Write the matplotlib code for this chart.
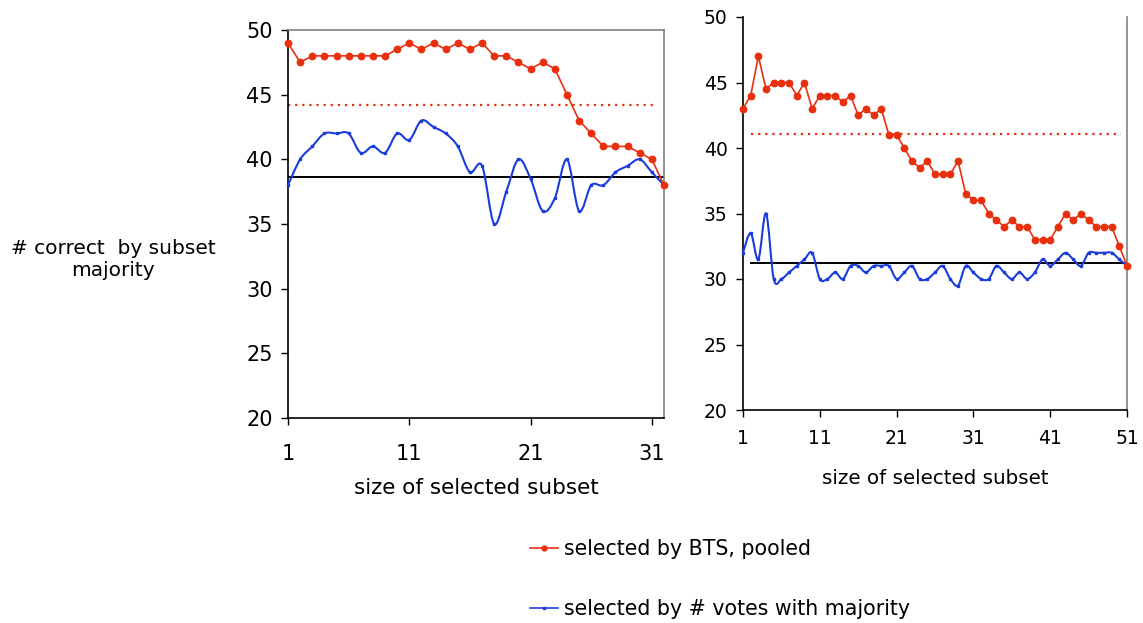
import numpy as np
import matplotlib
matplotlib.use("Agg")
import matplotlib.pyplot as plt
from matplotlib.path import Path
from matplotlib.patches import PathPatch
from matplotlib.lines import Line2D

# ---------------- data ----------------
left_bts = [49, 47.5, 48, 48, 48, 48, 48, 48, 48, 48.5, 49, 48.5, 49, 48.5, 49, 48.5,
            49, 48, 48, 47.5, 47, 47.5, 47, 45, 43, 42, 41, 41, 41, 40.5, 40, 38]
left_votes = [38, 40, 41, 42, 42, 42, 40.5, 41, 40.5, 42, 41.5, 43, 42.5, 42, 41, 39,
              39.5, 35, 37.5, 40, 38.5, 36, 37, 40, 36, 38, 38, 39, 39.5, 40, 39, 38]
right_bts = [43, 44, 47, 44.5, 45, 45, 45, 44, 45, 43,
             44, 44, 44, 43.5, 44, 42.5, 43, 42.5, 43, 41,
             41, 40, 39, 38.5, 39, 38, 38, 38, 39, 36.5,
             36, 36, 35, 34.5, 34, 34.5, 34, 34, 33, 33,
             33, 34, 35, 34.5, 35, 34.5, 34, 34, 34, 32.5, 31]
right_votes = [32, 33.5, 31.5, 35, 30, 30, 30.5, 31, 31.5, 32,
               30, 30, 30.5, 30, 31, 31, 30.5, 31, 31, 31,
               30, 30.5, 31, 30, 30, 30.5, 31, 30, 29.5, 31,
               30.5, 30, 30, 31, 30.5, 30, 30.5, 30, 30.5, 31.5,
               31, 31.5, 32, 31.5, 31, 32, 32, 32, 32, 31.5, 31]
bts_reference = [44.2, 41.1]      # dotted red lines (left, right)
votes_reference = [38.6, 31.2]    # black lines (left, right)
left_xticks = [1, 11, 21, 31]
right_xticks = [1, 11, 21, 31, 41, 51]
yticks = [20, 25, 30, 35, 40, 45, 50]

RED = '#E8300E'
BLUE = '#1A3CDB'

def smooth_path(x, y):
    """Excel-style smoothed line drawn as cubic Bezier segments through the data points."""
    x = np.asarray(x, float); y = np.asarray(y, float)
    n = len(x)
    verts = [(x[0], y[0])]
    codes = [Path.MOVETO]
    for i in range(n - 1):
        i0 = max(i - 1, 0); i3 = min(i + 2, n - 1)
        c1 = (x[i] + (x[i + 1] - x[i0]) / 6.0, y[i] + (y[i + 1] - y[i0]) / 6.0)
        c2 = (x[i + 1] - (x[i3] - x[i]) / 6.0, y[i + 1] - (y[i3] - y[i]) / 6.0)
        verts += [c1, c2, (x[i + 1], y[i + 1])]
        codes += [Path.CURVE4] * 3
    return Path(verts, codes)

fig = plt.figure(figsize=(11.43, 6.23), dpi=100)
W, H = 1143, 623

def make_axes(left, right, top, bottom):
    return fig.add_axes([left / W, 1 - bottom / H, (right - left) / W, (bottom - top) / H])

axL = make_axes(288, 664, 30, 418)
axR = make_axes(743, 1127, 17, 410)

def draw(ax, bts, votes, xticks, ref_bts, ref_votes, fs_tick, fs_lab, top_spine,
         dot_span, blk_span, xpad, labpad):
    x = np.arange(1, len(bts) + 1)
    ax.set_xlim(1, len(bts))
    ax.set_ylim(20, 50)
    ax.axhline(ref_bts, xmin=dot_span[0], xmax=dot_span[1], color=RED, lw=1.6,
               linestyle=(0, (1, 2.2)), zorder=2)
    ax.axhline(ref_votes, xmin=blk_span[0], xmax=blk_span[1], color='black', lw=1.4, zorder=2)
    ax.add_patch(PathPatch(smooth_path(x, votes), facecolor='none', edgecolor=BLUE,
                           lw=1.5, zorder=3, clip_on=False))
    ax.plot(x, votes, linestyle='none', marker='s', ms=1.8, color=BLUE, zorder=3, clip_on=False)
    ax.plot(x, bts, color=RED, lw=1.2, marker='o', ms=4.6, zorder=4, clip_on=False)
    ax.set_xticks(xticks)
    ax.set_yticks(yticks)
    ax.tick_params(axis='both', direction='out', length=5, width=1, labelsize=fs_tick, colors='black')
    ax.tick_params(axis='x', pad=xpad)
    ax.tick_params(axis='y', pad=6)
    ax.set_xlabel('size of selected subset', fontsize=fs_lab, labelpad=labpad)
    for s in ['left', 'bottom']:
        ax.spines[s].set_color('black'); ax.spines[s].set_linewidth(1.2)
    ax.spines['right'].set_color('#808080'); ax.spines['right'].set_linewidth(1.2)
    if top_spine:
        ax.spines['top'].set_color('#808080'); ax.spines['top'].set_linewidth(1.2)
    else:
        ax.spines['top'].set_visible(False)

draw(axL, left_bts, left_votes, left_xticks, bts_reference[0], votes_reference[0],
     15, 15.5, True, (0.0, 0.98), (0.0, 1.0), 14, 10)
draw(axR, right_bts, right_votes, right_xticks, bts_reference[1], votes_reference[1],
     13.5, 14.3, False, (0.02, 0.985), (0.02, 1.0), 9, 15)

fig.text(113 / W, 1 - 259 / H, '# correct  by subset\nmajority', ha='center', va='center',
         fontsize=14.5, multialignment='center', linespacing=1.2)

handles = [Line2D([], [], color=RED, lw=1.2, marker='o', ms=3.5),
           Line2D([], [], color=BLUE, lw=1.2, marker='s', ms=2)]
fig.legend(handles, ['selected by BTS, pooled', 'selected by # votes with majority'],
           loc='center left', bbox_to_anchor=(520 / W, 1 - 579 / H), frameon=False,
           fontsize=14.8, labelspacing=1.95, handlelength=1.35, handletextpad=0.3, borderpad=0)

fig.savefig('out.png', dpi=100)
